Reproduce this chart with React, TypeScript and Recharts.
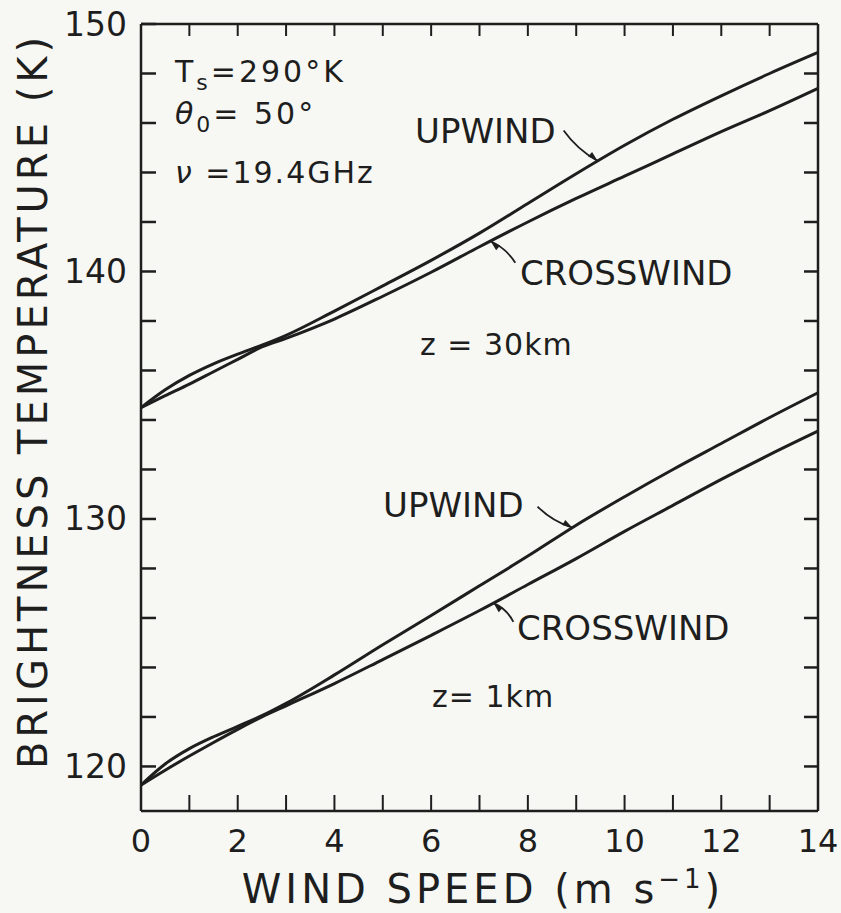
import React from 'react';
import { LineChart, Line, XAxis, YAxis, ReferenceLine } from 'recharts';

// Wind speed (m/s)
const windSpeed = [0, 0.5, 1, 1.5, 2, 2.5, 3, 4, 5, 6, 7, 8, 9, 10, 11, 12, 13, 14];
// z = 30 km
const upwind30 = [134.5, 135.22, 135.8, 136.27, 136.66, 137.02, 137.42, 138.4, 139.42, 140.45, 141.55, 142.75, 143.95, 145.1, 146.15, 147.1, 148.0, 148.85];
const crosswind30 = [134.5, 134.98, 135.45, 135.95, 136.45, 136.95, 137.3, 138.08, 139.0, 139.97, 141.0, 142.0, 142.95, 143.85, 144.75, 145.65, 146.5, 147.4];
// z = 1 km
const upwind1 = [119.25, 120.1, 120.72, 121.2, 121.62, 122.05, 122.55, 123.7, 124.92, 126.1, 127.3, 128.5, 129.75, 130.9, 132.0, 133.05, 134.1, 135.1];
const crosswind1 = [119.25, 119.85, 120.42, 120.97, 121.5, 122.0, 122.45, 123.35, 124.32, 125.3, 126.3, 127.35, 128.4, 129.5, 130.55, 131.6, 132.6, 133.55];

const xTicks = [0, 1, 2, 3, 4, 5, 6, 7, 8, 9, 10, 11, 12, 13, 14];
const xLabels = [0, 2, 4, 6, 8, 10, 12, 14];
const topTicks = [1, 2, 3, 4, 5, 6, 7, 8, 9, 10, 11, 12, 13];
const yTicks = [120, 122, 124, 126, 128, 130, 132, 134, 136, 138, 140, 142, 144, 146, 148, 150];
const yLabels = [120, 130, 140, 150];
const rightTicks = [120, 122, 124, 126, 128, 130, 132, 134, 136, 138, 140, 142, 144, 146, 148];

// leader arrows: [label end, point on curve] in data coordinates
const leaderUp30 = [{ x: 8.74, y: 145.7 }, { x: 9.44, y: 144.47 }];
const leaderCross30 = [{ x: 7.74, y: 140.35 }, { x: 7.23, y: 141.22 }];
const leaderUp1 = [{ x: 8.2, y: 130.5 }, { x: 8.92, y: 129.65 }];
const leaderCross1 = [{ x: 7.7, y: 125.84 }, { x: 7.29, y: 126.6 }];

const data = windSpeed.map((w, i) => ({
  w,
  up30: upwind30[i],
  cr30: crosswind30[i],
  up1: upwind1[i],
  cr1: crosswind1[i],
}));

const INK = '#1e1e1e';
const FONT = '"DejaVu Sans", sans-serif';

const LeftTick = (props: any) => {
  const { x, y, payload } = props;
  const v = payload.value;
  return (
    <g>
      <line x1={x} y1={y} x2={x + 15} y2={y} stroke={INK} strokeWidth={2.5} />
      {yLabels.includes(v) && (
        <text x={x - 14} y={y} textAnchor="end" dominantBaseline="central" fontSize={33} fill={INK} fontFamily={FONT}>
          {v}
        </text>
      )}
    </g>
  );
};

const RightTick = (props: any) => {
  const { x, y } = props;
  return <line x1={x} y1={y} x2={x - 14} y2={y} stroke={INK} strokeWidth={2.5} />;
};

const BottomTick = (props: any) => {
  const { x, y, payload } = props;
  const v = payload.value;
  return (
    <g>
      <line x1={x} y1={y} x2={x} y2={y - 16} stroke={INK} strokeWidth={2} />
      {xLabels.includes(v) && (
        <text x={x} y={y + 30} textAnchor="middle" dominantBaseline="central" fontSize={32} fill={INK} fontFamily={FONT}>
          {v}
        </text>
      )}
    </g>
  );
};

const TopTick = (props: any) => {
  const { x, y } = props;
  return <line x1={x} y1={y} x2={x} y2={y + 12} stroke={INK} strokeWidth={2} />;
};

const Leader = (props: any) => {
  const { x1, y1, x2, y2 } = props;
  const dx = x2 - x1;
  const dy = y2 - y1;
  const len = Math.hypot(dx, dy) || 1;
  const ux = dx / len;
  const uy = dy / len;
  const mx = (x1 + x2) / 2 - uy * 5;
  const my = (y1 + y2) / 2 + ux * 5;
  const ah = 10;
  const aw = 3;
  const bx = x2 - ux * ah;
  const by = y2 - uy * ah;
  const head = `M${x2},${y2} L${bx - uy * aw},${by + ux * aw} L${bx + uy * aw},${by - ux * aw} Z`;
  return (
    <g>
      <path d={`M${x1},${y1} Q${mx},${my} ${x2},${y2}`} fill="none" stroke={INK} strokeWidth={1.8} />
      <path d={head} fill={INK} />
    </g>
  );
};

const axisLine = { stroke: INK, strokeWidth: 2.5 };

export default function App() {
  return (
    <div style={{ position: 'absolute', left: 0, top: 0, width: 841, height: 913, background: '#f7f8f3' }}>
      <LineChart width={841} height={913} data={data} margin={{ top: 23, right: 22, bottom: 0, left: 0 }}>
        <XAxis
          dataKey="w"
          type="number"
          domain={[0, 14]}
          ticks={xTicks}
          interval={0}
          height={102}
          tickSize={0}
          tickMargin={0}
          tickLine={false}
          axisLine={axisLine}
          tick={<BottomTick />}
        />
        <XAxis
          xAxisId="top"
          dataKey="w"
          orientation="top"
          type="number"
          domain={[0, 14]}
          ticks={topTicks}
          interval={0}
          height={1}
          tickSize={0}
          tickMargin={0}
          tickLine={false}
          axisLine={axisLine}
          tick={<TopTick />}
        />
        <YAxis
          type="number"
          domain={[118.2, 150]}
          ticks={yTicks}
          interval={0}
          width={141}
          tickSize={0}
          tickMargin={0}
          tickLine={false}
          axisLine={axisLine}
          tick={<LeftTick />}
        />
        <YAxis
          yAxisId="right"
          orientation="right"
          type="number"
          domain={[118.2, 150]}
          ticks={rightTicks}
          interval={0}
          width={1}
          tickSize={0}
          tickMargin={0}
          tickLine={false}
          axisLine={axisLine}
          tick={<RightTick />}
        />
        <Line
          xAxisId="top"
          yAxisId="right"
          dataKey="up30"
          type="monotone"
          stroke="none"
          strokeWidth={0}
          dot={false}
          activeDot={false}
          legendType="none"
          isAnimationActive={false}
        />
        <Line dataKey="up30" type="monotone" stroke={INK} strokeWidth={3} dot={false} isAnimationActive={false} />
        <Line dataKey="cr30" type="monotone" stroke={INK} strokeWidth={3} dot={false} isAnimationActive={false} />
        <Line dataKey="up1" type="monotone" stroke={INK} strokeWidth={3} dot={false} isAnimationActive={false} />
        <Line dataKey="cr1" type="monotone" stroke={INK} strokeWidth={3} dot={false} isAnimationActive={false} />
        <ReferenceLine segment={leaderUp30} shape={<Leader />} />
        <ReferenceLine segment={leaderCross30} shape={<Leader />} />
        <ReferenceLine segment={leaderUp1} shape={<Leader />} />
        <ReferenceLine segment={leaderCross1} shape={<Leader />} />
      </LineChart>
      <svg
        width={841}
        height={913}
        style={{ position: 'absolute', left: 0, top: 0, pointerEvents: 'none' }}
        fontFamily={FONT}
        fill={INK}
      >
        <text x={175} y={82} fontSize={30} letterSpacing={3}>
          T<tspan fontSize={22} dy={8}>s</tspan>
          <tspan dy={-8}>=290°K</tspan>
        </text>
        <text x={175} y={124} fontSize={30} letterSpacing={3}>
          <tspan fontStyle="italic">θ</tspan>
          <tspan fontSize={22} dy={8}>0</tspan>
          <tspan dy={-8}>= 50°</tspan>
        </text>
        <text x={175} y={183} fontSize={30} letterSpacing={2}>
          <tspan fontStyle="italic">ν</tspan> =19.4GHz
        </text>
        <text x={415} y={143} fontSize={34}>UPWIND</text>
        <text x={520} y={285} fontSize={34}>CROSSWIND</text>
        <text x={420} y={355} fontSize={30} letterSpacing={1}>z = 30km</text>
        <text x={383} y={517} fontSize={34}>UPWIND</text>
        <text x={517} y={640} fontSize={34}>CROSSWIND</text>
        <text x={432} y={707} fontSize={30} letterSpacing={1}>z= 1km</text>
        <text transform="translate(47,401) rotate(-90)" textAnchor="middle" fontSize={40} letterSpacing={4}>
          BRIGHTNESS TEMPERATURE (K)
        </text>
        <text x={483} y={903} textAnchor="middle" fontSize={40} letterSpacing={4}>
          WIND SPEED (m s<tspan fontSize={26} dy={-15}>−1</tspan>
          <tspan dy={15}>)</tspan>
        </text>
      </svg>
    </div>
  );
}
